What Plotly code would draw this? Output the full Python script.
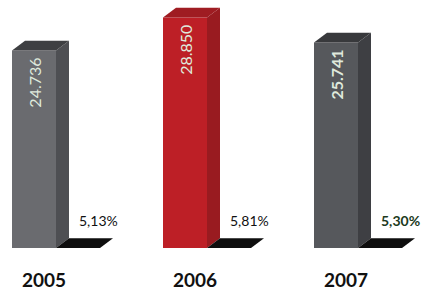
import plotly.graph_objects as go

# ---- data ----
years = ["2005", "2006", "2007"]
values = [24736, 28850, 25741]
value_labels = ["24.736", "28.850", "25.741"]
pct_values = [5.13, 5.81, 5.30]
pct_labels = ["5,13%", "5,81%", "5,30%"]

# ---- layout constants ----
W, H = 437, 291
MB = 37
PLOT_H = H - MB
YMAX = 31050
upp = YMAX / PLOT_H          # data units per pixel
STEP = 151
LEFT0 = 12
BW = 44
DX = 13
DY = 10 * upp

front_colors = ["#6a6b6f", "#bd1f26", "#56585c"]
side_colors = ["#4e4f53", "#991b20", "#3e3f43"]
top_colors = ["#3e3f42", "#9f1c22", "#38393c"]
val_fonts = [dict(family="Lato", size=16, color="#dfe9dc"),
             dict(family="Lato", size=16, color="#dfe9dc"),
             dict(family="Lato", size=16, color="#dfe9dc", weight="bold")]
pct_fonts = [dict(family="Lato", size=14, color="#111111"),
             dict(family="Lato", size=14, color="#111111"),
             dict(family="Lato", size=14, color="#1c3a1c", weight="bold")]

fig = go.Figure()
lefts = [LEFT0 + STEP * i for i in range(len(years))]

fig.add_bar(x=[l + BW / 2 for l in lefts], y=values, width=BW,
            marker=dict(color=front_colors, line_width=0), hoverinfo="skip")

for i, v in enumerate(values):
    L = lefts[i]
    R = L + BW
    fig.add_scatter(x=[R, R + DX, R + DX, R, R], y=[0, DY, v + DY, v, 0],
                    fill="toself", fillcolor=side_colors[i], mode="lines",
                    line=dict(width=0), hoverinfo="skip")
    fig.add_scatter(x=[L, L + DX, R + DX, R, L], y=[v, v + DY, v + DY, v, v],
                    fill="toself", fillcolor=top_colors[i], mode="lines",
                    line=dict(width=0), hoverinfo="skip")
    p = pct_values[i]
    fig.add_scatter(x=[R, R + DX, R + BW + DX, R + BW, R], y=[p, p + DY, p + DY, p, p],
                    fill="toself", fillcolor="#0e0e0e", mode="lines",
                    line=dict(width=0), hoverinfo="skip")
    fig.add_annotation(x=L + BW / 2 + 1, y=v - 33 * upp, text=value_labels[i],
                       textangle=-90, showarrow=False, xanchor="center", yanchor="middle",
                       font=val_fonts[i])
    fig.add_annotation(x=R + 21, y=p + 28 * upp, text=pct_labels[i],
                       showarrow=False, xanchor="left", yanchor="middle",
                       font=pct_fonts[i])

fig.update_layout(
    width=W, height=H, margin=dict(l=0, r=0, t=0, b=MB),
    paper_bgcolor="white", plot_bgcolor="white", showlegend=False,
    xaxis=dict(range=[0, W], tickvals=[l + 32 for l in lefts], ticktext=years,
               showgrid=False, zeroline=False, showline=False, ticks="",
               ticklabelstandoff=19,
               tickfont=dict(family="Lato", size=19, color="#111111", weight="bold"),
               fixedrange=True),
    yaxis=dict(range=[0, YMAX], visible=False, fixedrange=True),
)

fig.write_html("out.html", config={"displayModeBar": False},
               post_script="document.body.style.margin='0';")
